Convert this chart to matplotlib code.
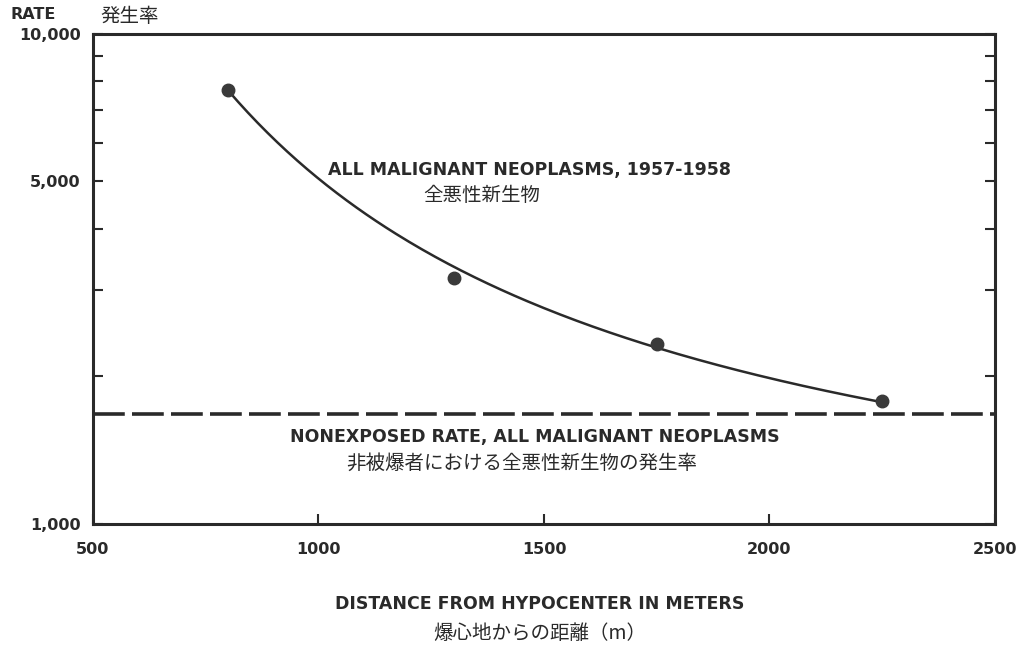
import numpy as np
import matplotlib
matplotlib.use('Agg')
import matplotlib.pyplot as plt
from matplotlib.ticker import FixedLocator, NullFormatter

plt.rcParams['font.family'] = ['DejaVu Sans', 'Noto Sans CJK JP']

# data
distance = [800, 1300, 1750, 2250]
rate = [7700, 3180, 2330, 1780]
nonexposed_rate = 1675

# the drawn smooth curve, read at a few places (it does not pass through every dot)
curve_distance = [800, 960, 1180, 1300, 1400, 1750, 1850, 2250]
curve_rate = [7690, 5420, 3800, 3380, 3080, 2290, 2130, 1775]

x_ticks = [500, 1000, 1500, 2000, 2500]
y_major = [1000, 5000, 10000]
y_major_labels = ['1,000', '5,000', '10,000']
y_minor = [2000, 3000, 4000, 6000, 7000, 8000, 9000]

ink = '#2a2a2a'

fig = plt.figure(figsize=(10.25, 6.45), dpi=100)
ax = fig.add_axes([0.0907, 0.1876, 0.88, 0.7597])
ax.set_yscale('log')
ax.set_xlim(500, 2500)
ax.set_ylim(1000, 10000)

# smooth curve: log(rate) fitted against 1/distance
coef = np.polyfit(1.0 / np.array(curve_distance), np.log10(curve_rate), 2)
xs = np.linspace(curve_distance[0], curve_distance[-1], 200)
ax.plot(xs, 10 ** np.polyval(coef, 1.0 / xs), color=ink, lw=1.8)
ax.plot(distance, rate, 'o', color='#3a3a3a', ms=9)

ax.axhline(nonexposed_rate, color=ink, lw=2.6, dashes=(8.8, 2.0))

for s in ax.spines.values():
    s.set_linewidth(2.2)
    s.set_color(ink)

ax.xaxis.set_major_locator(FixedLocator(x_ticks))
ax.set_xticklabels([str(v) for v in x_ticks])
ax.yaxis.set_major_locator(FixedLocator(y_major))
ax.set_yticklabels(y_major_labels)
ax.yaxis.set_minor_locator(FixedLocator(y_minor))
ax.yaxis.set_minor_formatter(NullFormatter())
ax.tick_params(axis='both', which='both', direction='in', color=ink, width=1.5,
               labelsize=11.5, labelcolor=ink)
ax.tick_params(axis='y', which='both', right=True, length=7, pad=9)
ax.tick_params(axis='x', length=7, pad=13)
for lbl in ax.get_xticklabels() + ax.get_yticklabels():
    lbl.set_fontweight('bold')

ax.text(1469, 5280, 'ALL MALIGNANT NEOPLASMS, 1957-1958', ha='center', va='center',
        fontsize=12.5, fontweight='bold', color=ink)
ax.text(1362, 4690, '全悪性新生物', ha='center', va='center', fontsize=14,
        color=ink, family=['Noto Sans CJK JP'])
ax.text(1480, 1505, 'NONEXPOSED RATE, ALL MALIGNANT NEOPLASMS', ha='center', va='center',
        fontsize=12.5, fontweight='bold', color=ink)
ax.text(1450, 1332, '非被爆者における全悪性新生物の発生率', ha='center', va='center',
        fontsize=14, color=ink, family=['Noto Sans CJK JP'])

fig.text(0.01, 0.978, 'RATE', ha='left', va='center', fontsize=11.5,
         fontweight='bold', color=ink)
fig.text(0.098, 0.975, '発生率', ha='left', va='center', fontsize=14,
         color=ink, family=['Noto Sans CJK JP'])

fig.text(0.527, 0.063, 'DISTANCE FROM HYPOCENTER IN METERS', ha='center', va='center',
         fontsize=12.5, fontweight='bold', color=ink)
fig.text(0.527, 0.018, '爆心地からの距離（m）', ha='center', va='center',
         fontsize=14, color=ink, family=['Noto Sans CJK JP'])

fig.savefig('out.png', dpi=100, facecolor='white')
